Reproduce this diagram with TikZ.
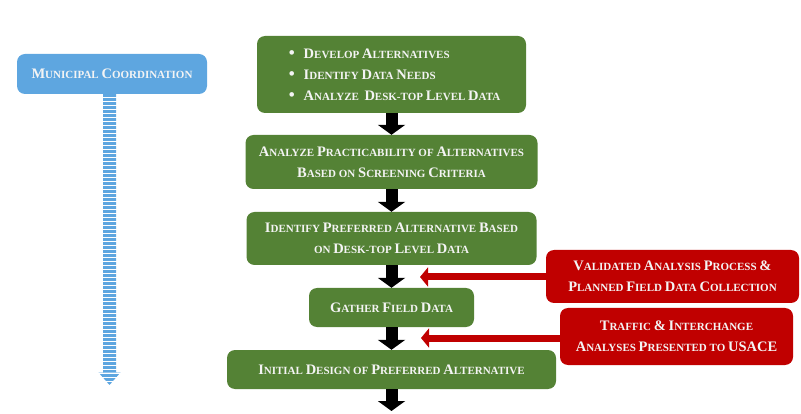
\documentclass[tikz,border=0pt]{standalone}
\usepackage{fontspec}
\setmainfont{Liberation Serif}
\usetikzlibrary{arrows.meta}
\definecolor{grn}{HTML}{548235}
\definecolor{rd}{HTML}{C00000}
\definecolor{blu}{HTML}{5EA6E0}
\definecolor{txt}{HTML}{F4F4F4}
\newcommand\Cp[1]{{\fontsize{14.5}{21}\selectfont #1}}
\newcommand\Bul{{\fontsize{17}{21}\selectfont\raisebox{-0.5pt}{\textbullet}}}
\begin{document}
\begin{tikzpicture}[x=1pt,y=-1pt,
  box/.style={rounded corners=8pt, inner sep=0pt, text=txt,
    font=\fontsize{11}{21}\selectfont\bfseries, align=center, anchor=center},
  gbox/.style={box, fill=grn},
  rbox/.style={box, fill=rd},
  bbox/.style={box, fill=blu},
  blk/.style={line width=12pt, black, -{Triangle[width=27pt,length=10pt]}},
  redarr/.style={line width=7pt, rd, -{Triangle[width=19pt,length=8pt]}},
  stripe/.style={blu, line width=26pt, dash pattern=on 2.7pt off 1.3pt}
]
\useasboundingbox (0,0) rectangle (801,414);

\node[bbox, minimum width=190pt, minimum height=40pt] (muni) at (112,74)
  {\Cp{M}UNICIPAL \Cp{C}OORDINATION};

\node[gbox, minimum width=269pt, minimum height=77pt, align=left] (g1) at (391.5,74.5)
  {\hspace*{6pt}\Bul\hspace{9pt}\Cp{D}EVELOP \Cp{A}LTERNATIVES\\
   \hspace*{6pt}\Bul\hspace{9pt}\Cp{I}DENTIFY \Cp{D}ATA \Cp{N}EEDS\\
   \hspace*{6pt}\Bul\hspace{9pt}\Cp{A}NALYZE\ \ \Cp{D}ESK-TOP \Cp{L}EVEL \Cp{D}ATA};

\node[gbox, minimum width=292pt, minimum height=54pt] (g2) at (391.5,162)
  {\Cp{A}NALYZE \Cp{P}RACTICABILITY OF \Cp{A}LTERNATIVES\\
   \Cp{B}ASED ON \Cp{S}CREENING \Cp{C}RITERIA};

\node[gbox, minimum width=290pt, minimum height=53pt] (g3) at (391.5,238.5)
  {\Cp{I}DENTIFY \Cp{P}REFERRED \Cp{A}LTERNATIVE \Cp{B}ASED\\
   ON \Cp{D}ESK-TOP \Cp{L}EVEL \Cp{D}ATA};

\node[gbox, minimum width=165pt, minimum height=39pt] (g4) at (391.5,307.5)
  {\Cp{G}ATHER \Cp{F}IELD \Cp{D}ATA};

\node[gbox, minimum width=329pt, minimum height=39pt] (g5) at (391.5,369.5)
  {\Cp{I}NITIAL \Cp{D}ESIGN OF \Cp{P}REFERRED \Cp{A}LTERNATIVE};

\node[rbox, minimum width=253pt, minimum height=53pt] (r1) at (672.5,276.5)
  {\Cp{V}ALIDATED \Cp{A}NALYSIS \Cp{P}ROCESS \Cp{\&}\\
   \Cp{P}LANNED \Cp{F}IELD \Cp{D}ATA \Cp{C}OLLECTION};

\node[rbox, minimum width=233pt, minimum height=57pt] (r2) at (676.5,336.5)
  {\Cp{T}RAFFIC \Cp{\&} \Cp{I}NTERCHANGE\\
   \Cp{A}NALYSES \Cp{P}RESENTED TO \Cp{USACE}};

% black flow arrows
\coordinate (end) at (391.5,411);
\draw[blk] (g1.south) -- (g2.north);
\draw[blk] (g2.south) -- (g3.north);
\draw[blk] (g3.south) -- (g4.north);
\draw[blk] (g4.south) -- (g5.north);
\draw[blk] (g5.south) -- (end);

% red arrows
\coordinate (r1e) at (420,277);
\coordinate (r2e) at (421,338);
\draw[redarr] (r1.west |- r1e) -- (r1e);
\draw[redarr] (r2.west |- r2e) -- (r2e);

% blue striped connector
\coordinate (btip) at (109.5,385);
\begin{scope}
  \clip (103,94) rectangle (116,373)
        (98.5,372.5) -- (120.5,372.5) -- (btip) -- cycle;
  \draw[stripe] (muni.south -| btip) -- (btip);
\end{scope}
\end{tikzpicture}
\end{document}
